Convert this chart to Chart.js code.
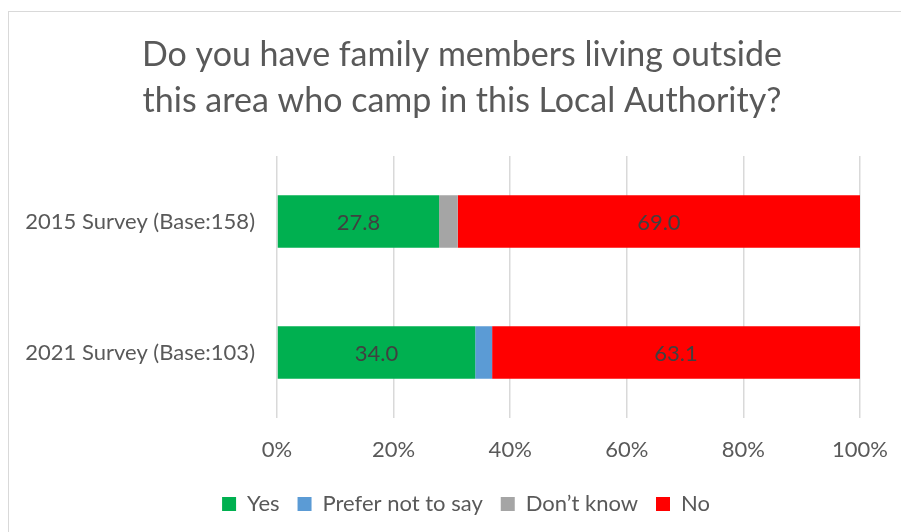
<!DOCTYPE html>
<html>
<head>
<meta charset="utf-8">
<script src="https://cdn.jsdelivr.net/npm/chart.js@4"></script>
<style>
    html, body { margin: 0; padding: 0; background: #ffffff; }
    #wrap { position: relative; width: 901px; height: 532px; overflow: hidden; }
    #moldura { position: absolute; left: 8px; top: 11px; width: 960px; height: 600px; border-left: 1px solid #d9d9d9; border-top: 1px solid #d9d9d9; }
    #grafico { position: absolute; left: 0; top: 0; }
</style>
</head>
<body>
<div id="wrap">
    <div id="moldura"></div>
    <canvas id="grafico" width="901" height="532"></canvas>
</div>
<script>
const titulo = ['Do you have family members living outside', 'this area who camp in this Local Authority?'];
const categorias = ['2015 Survey (Base:158)', '2021 Survey (Base:103)'];
const serieYes = [27.8, 34.0];
const seriePrefer = [0, 2.9];
const serieDontKnow = [3.2, 0];
const serieNo = [69.0, 63.1];
const ticksX = [0, 20, 40, 60, 80, 100];

const fonte = 'Lato, "Open Sans", sans-serif';
const corTexto = '#595959';

// rotulos dentro das barras (so Yes e No)
const pluginRotulos = {
    id: 'rotulos',
    afterDatasetsDraw(chart) {
        const ctx = chart.ctx;
        ctx.save();
        ctx.font = '22px ' + fonte;
        ctx.fillStyle = '#404040';
        ctx.textAlign = 'center';
        ctx.textBaseline = 'middle';
        chart.data.datasets.forEach((ds, i) => {
            if (!ds.mostrarRotulo) return;
            const meta = chart.getDatasetMeta(i);
            meta.data.forEach((bar, j) => {
                const v = ds.data[j];
                if (!v) return;
                const c = bar.getCenterPoint();
                ctx.fillText(v.toFixed(1), c.x, c.y + 1);
            });
        });
        ctx.restore();
    }
};

// titulo desenhado a mao, centrado como no original
const pluginTitulo = {
    id: 'tituloManual',
    afterDraw(chart) {
        const ctx = chart.ctx;
        ctx.save();
        ctx.font = '34px ' + fonte;
        ctx.fillStyle = corTexto;
        ctx.textAlign = 'center';
        ctx.textBaseline = 'alphabetic';
        titulo.forEach((linha, i) => {
            ctx.fillText(linha, 462, 66 + i * 46);
        });
        ctx.restore();
    }
};

// legenda um pouco mais para a direita, como no original
const pluginLegendaDesloc = {
    id: 'legendaDesloc',
    afterLayout(chart) {
        if (!chart.legend) return;
        chart.legend.left += 26;
        chart.legend.right += 26;
    }
};

const ctx = document.querySelector('#grafico');
new Chart(ctx, {
    type: 'bar',
    data: {
        labels: categorias,
        datasets: [
            { label: 'Yes', data: serieYes, backgroundColor: '#00b050', mostrarRotulo: true },
            { label: 'Prefer not to say', data: seriePrefer, backgroundColor: '#5b9bd5' },
            { label: 'Don\u2019t know', data: serieDontKnow, backgroundColor: '#a5a5a5' },
            { label: 'No', data: serieNo, backgroundColor: '#ff0000', mostrarRotulo: true }
        ]
    },
    options: {
        indexAxis: 'y',
        responsive: false,
        animation: false,
        devicePixelRatio: 1,
        datasets: {
            bar: { barPercentage: 0.4, categoryPercentage: 1.0, borderWidth: 0 }
        },
        layout: { padding: { left: 20, right: 41, top: 156, bottom: 7 } },
        scales: {
            x: {
                stacked: true,
                min: 0,
                max: 100,
                afterBuildTicks: (scale) => { scale.ticks = ticksX.map((v) => ({ value: v })); },
                afterFit: (scale) => {
                    scale.height = 57;
                    scale.paddingLeft = 0;
                    scale.paddingRight = 0;
                },
                grid: { color: '#d9d9d9', lineWidth: 1.5, drawTicks: false },
                border: { display: false },
                ticks: {
                    padding: 19,
                    color: corTexto,
                    font: { family: fonte, size: 22 },
                    callback: (v) => v + '%'
                }
            },
            y: {
                stacked: true,
                afterFit: (scale) => { scale.width = 257; },
                grid: { display: false, drawTicks: false },
                border: { display: false },
                ticks: {
                    padding: 22,
                    color: corTexto,
                    font: { family: fonte, size: 22 }
                }
            }
        },
        plugins: {
            title: { display: false },
            legend: {
                position: 'bottom',
                labels: {
                    color: corTexto,
                    font: { family: fonte, size: 22 },
                    boxWidth: 14,
                    boxHeight: 14,
                    padding: 18
                }
            },
            tooltip: { enabled: false }
        }
    },
    plugins: [pluginRotulos, pluginTitulo, pluginLegendaDesloc]
});
</script>
</body>
</html>
